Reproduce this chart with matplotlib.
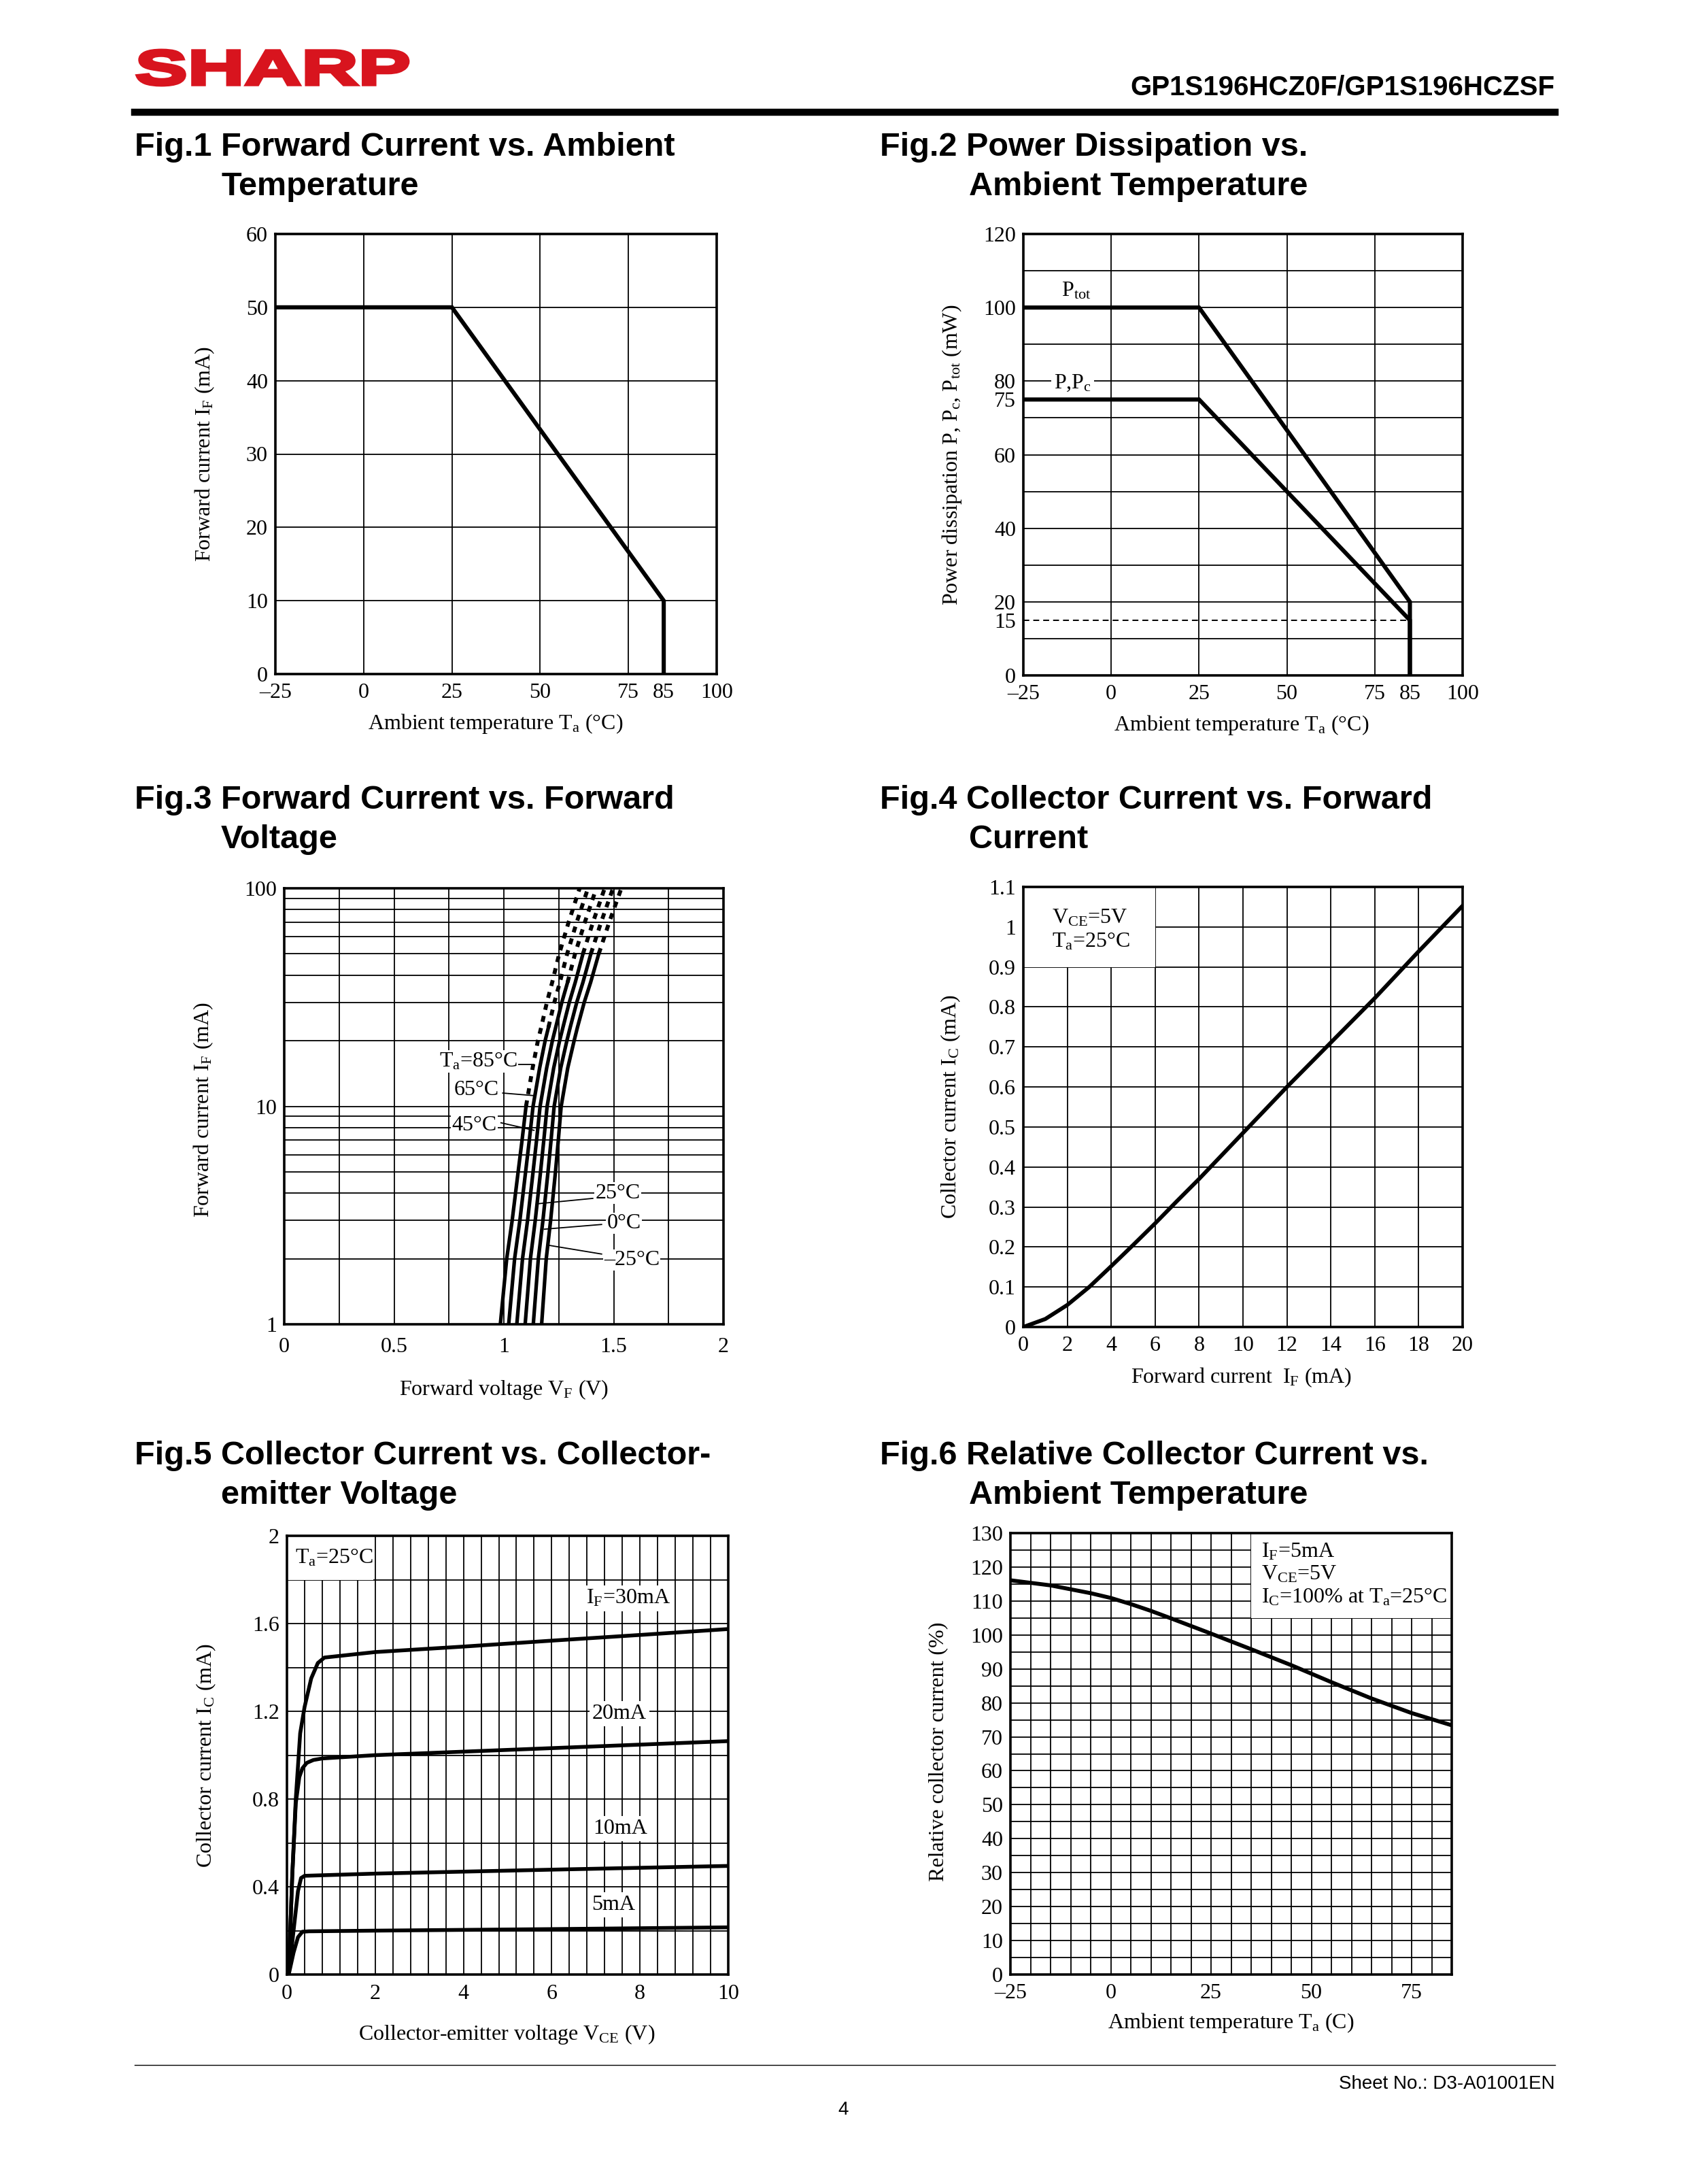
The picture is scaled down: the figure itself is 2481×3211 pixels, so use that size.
import matplotlib
matplotlib.use("Agg")
import matplotlib.pyplot as plt
import numpy as np
from matplotlib.patches import Rectangle, PathPatch
from matplotlib.lines import Line2D
from matplotlib.textpath import TextPath
from matplotlib.font_manager import FontProperties
from matplotlib.transforms import Affine2D

W, H = 2481, 3211
plt.rcParams['font.family'] = ['Liberation Serif', 'DejaVu Serif']
plt.rcParams['mathtext.fontset'] = 'custom'
plt.rcParams['mathtext.rm'] = 'Liberation Serif'
plt.rcParams['mathtext.it'] = 'Liberation Serif:italic'
plt.rcParams['mathtext.bf'] = 'Liberation Serif:bold'

# ---- Fig.1 forward current derating
f1_ta = [-25, 25, 85, 85]
f1_if = [50, 50, 10, 0]

# ---- Fig.2 power dissipation derating
f2_ta = [-25, 25, 85, 85]
f2_ptot = [100, 100, 20, 0]
f2_p = [75, 75, 15, 0]

# ---- Fig.3 forward current vs forward voltage
f3_if = [1, 2, 3, 5, 7, 10, 15, 20, 23, 30, 37, 50, 70, 100]
f3_vf = {
    "85": [0.984, 1.013, 1.038, 1.065, 1.083, 1.101, 1.131, 1.155, 1.170, 1.196, 1.220, 1.252, 1.295, 1.345],
    "65": [1.022, 1.049, 1.073, 1.099, 1.116, 1.133, 1.163, 1.188, 1.203, 1.230, 1.255, 1.288, 1.332, 1.383],
    "45": [1.059, 1.085, 1.108, 1.133, 1.149, 1.165, 1.195, 1.221, 1.236, 1.264, 1.290, 1.324, 1.369, 1.421],
    "25": [1.097, 1.121, 1.143, 1.167, 1.182, 1.197, 1.227, 1.254, 1.269, 1.298, 1.325, 1.360, 1.406, 1.459],
    "0": [1.134, 1.157, 1.178, 1.201, 1.215, 1.229, 1.259, 1.287, 1.302, 1.332, 1.360, 1.396, 1.443, 1.497],
    "-25": [1.172, 1.193, 1.213, 1.235, 1.248, 1.261, 1.291, 1.320, 1.335, 1.366, 1.395, 1.432, 1.480, 1.535],
}
# index where the curve turns dotted (above the rated current)
f3_break = {"85": 5, "65": 8, "45": 10, "25": 11, "0": 11, "-25": 11}

# ---- Fig.4 collector current vs forward current
f4_if = [0, 1, 2, 3, 4, 5, 6, 7, 8, 10, 12, 14, 16, 18, 20]
f4_ic = [0, 0.02, 0.055, 0.1, 0.152, 0.205, 0.259, 0.315, 0.37, 0.485, 0.6, 0.711, 0.822, 0.939, 1.053]

# ---- Fig.5 collector current vs collector-emitter voltage
f5_v30 = [0.04, 0.12, 0.2, 0.25, 0.3, 0.4, 0.55, 0.7, 0.85, 2, 4, 6, 8, 10]
f5_i30 = [0, 0.45, 0.8, 0.95, 1.1, 1.22, 1.35, 1.42, 1.445, 1.47, 1.495, 1.522, 1.548, 1.575]
f5_v20 = [0.04, 0.12, 0.2, 0.28, 0.35, 0.45, 0.6, 0.8, 2, 4, 6, 8, 10]
f5_i20 = [0, 0.45, 0.78, 0.9, 0.94, 0.965, 0.978, 0.985, 1.0, 1.016, 1.032, 1.048, 1.064]
f5_v10 = [0.04, 0.15, 0.25, 0.32, 0.4, 2, 6, 10]
f5_i10 = [0, 0.2, 0.38, 0.44, 0.45, 0.46, 0.478, 0.495]
f5_v5 = [0.04, 0.15, 0.25, 0.35, 0.5, 2, 6, 10]
f5_i5 = [0, 0.1, 0.17, 0.195, 0.197, 0.2, 0.207, 0.215]

# ---- Fig.6 relative collector current vs ambient temperature
f6_ta = [-25, -15, -5, 0, 5, 10, 15, 25, 35, 45, 55, 65, 75, 85]
f6_rel = [116.1, 114.6, 112.3, 110.9, 109.1, 107.1, 104.9, 100.4, 95.8, 91.1, 86.1, 81.3, 77.0, 73.4]

fig = plt.figure(figsize=(W / 100, H / 100), dpi=100)
TICK = 23
LAB = 23
SANS = ['Liberation Sans', 'DejaVu Sans']


def px_axes(l, t, r, b):
    return fig.add_axes([l / W, 1 - b / H, (r - l) / W, (b - t) / H])


def ptext(x, y, s, **kw):
    return fig.text(x / W, 1 - y / H, s, **kw)


def style(ax, xlim, ylim, xticks, xlabels, yticks, ylabels, gx, gy, xpad=9):
    ax.set_xlim(*xlim)
    ax.set_ylim(*ylim)
    ax.set_xticks(xticks)
    ax.set_xticklabels(xlabels)
    ax.set_yticks(yticks)
    ax.set_yticklabels(ylabels)
    ax.set_xticks([], minor=True)
    ax.set_yticks([], minor=True)
    ax.tick_params(which='both', length=0, labelsize=TICK, pad=8)
    ax.tick_params(axis='x', pad=xpad)
    for x in gx:
        ax.axvline(x, color='k', lw=1.3, zorder=0.5)
    for y in gy:
        ax.axhline(y, color='k', lw=1.3, zorder=0.5)
    for s in ax.spines.values():
        s.set_linewidth(2.6)
        s.set_zorder(5)


def title(x, y, l1, l2, indent):
    kw = dict(family=SANS, weight='bold', fontsize=35, va='baseline')
    ptext(x, y, l1, **kw)
    ptext(x + indent, y + 58, l2, **kw)


# ---------- header / footer
fp = FontProperties(family='Liberation Sans', weight='bold')
tp = TextPath((0, 0), 'SHARP', size=100, prop=fp)
bb = tp.get_extents()
tr = (Affine2D().translate(-bb.x0, -bb.y0)
      .scale((600 - 202) / bb.width / W, (125 - 74) / bb.height / H)
      .translate(202 / W, 1 - 125 / H) + fig.transFigure)
fig.add_artist(PathPatch(tp, transform=tr, fc='#D8141E', ec='#D8141E', lw=3.5, joinstyle='miter'))
ptext(2287, 139, 'GP1S196HCZ0F/GP1S196HCZSF', family=SANS,
      weight='bold', fontsize=29, ha='right', va='baseline')
fig.add_artist(Line2D([198 / W, 2287 / W], [1 - 165 / H] * 2, lw=7.5, color='k'))
fig.add_artist(Line2D([198 / W, 2287 / W], [1 - 3036 / H] * 2, lw=1.0, color='k'))
ptext(2287, 3071, 'Sheet No.: D3-A01001EN', family=SANS, fontsize=20, ha='right', va='baseline')
ptext(1240, 3109, '4', family=SANS, fontsize=20, ha='center', va='baseline')

# ---------- titles
title(198, 229, 'Fig.1 Forward Current vs. Ambient', 'Temperature', 127)
title(1294, 229, 'Fig.2 Power Dissipation vs.', 'Ambient Temperature', 131)
title(198, 1189, 'Fig.3 Forward Current vs. Forward', 'Voltage', 127)
title(1294, 1189, 'Fig.4 Collector Current vs. Forward', 'Current', 131)
title(198, 2153, 'Fig.5 Collector Current vs. Collector-', 'emitter Voltage', 127)
title(1294, 2153, 'Fig.6 Relative Collector Current vs.', 'Ambient Temperature', 131)

ta_ticks = [-25, 0, 25, 50, 75, 85, 100]
ta_labels = ['\u201325', '0', '25', '50', '75', '85', '100']

# ---------- Fig.1
ax1 = px_axes(405, 344, 1054, 991)
style(ax1, (-25, 100), (0, 60), ta_ticks, ta_labels, range(0, 61, 10),
      [str(v) for v in range(0, 61, 10)], [0, 25, 50, 75], [10, 20, 30, 40, 50])
ax1.plot(f1_ta, f1_if, color='k', lw=4.4, solid_joinstyle='miter', zorder=3)
ptext(729, 1064, r'Ambient temperature $\mathrm{T_a}$ (°C)', fontsize=LAB, ha='center', va='center')
ptext(301, 667, r'Forward current $\mathrm{I_F}$ (mA)', fontsize=LAB, ha='center', va='center', rotation=90)

# ---------- Fig.2
ax2 = px_axes(1505, 344, 2151, 993)
style(ax2, (-25, 100), (0, 120), ta_ticks, ta_labels, [0, 15, 20, 40, 60, 75, 80, 100, 120],
      ['0', '15', '20', '40', '60', '75', '80', '100', '120'], [0, 25, 50, 75], range(10, 111, 10))
ax2.plot([-25, 85], [15, 15], color='k', lw=1.4, ls=(0, (4.5, 3)), zorder=2)
ax2.plot(f2_ta, f2_ptot, color='k', lw=4.4, solid_joinstyle='miter', zorder=3)
ax2.plot(f2_ta, f2_p, color='k', lw=4.4, solid_joinstyle='miter', zorder=3)
ax2.text(-10, 104.5, r'$\mathrm{P_{tot}}$', fontsize=TICK, ha='center', va='center', zorder=4)
ax2.text(-11, 79.5, r'P,$\mathrm{P_c}$', fontsize=TICK, ha='center', va='center', zorder=4,
         bbox=dict(fc='white', ec='none', pad=3))
ptext(1826, 1066, r'Ambient temperature $\mathrm{T_a}$ (°C)', fontsize=LAB, ha='center', va='center')
ptext(1400, 669, r'Power dissipation P, $\mathrm{P_c}$, $\mathrm{P_{tot}}$ (mW)', fontsize=LAB,
      ha='center', va='center', rotation=90)

# ---------- Fig.3
ax3 = px_axes(418, 1306, 1064, 1947)
ax3.set_yscale('log')
gy3 = [2, 3, 4, 5, 6, 7, 8, 9, 10, 20, 30, 40, 50, 60, 70, 80, 90]
style(ax3, (0, 2), (1, 100), [0, 0.5, 1, 1.5, 2], ['0', '0.5', '1', '1.5', '2'], [1, 10, 100],
      ['1', '10', '100'], [0.25, 0.5, 0.75, 1, 1.25, 1.5, 1.75], gy3, xpad=14)
for key, vf in f3_vf.items():
    k = f3_break[key]
    ax3.plot(vf[:k + 1], f3_if[:k + 1], color='k', lw=3.8, zorder=3)
    ax3.plot(vf[k:], f3_if[k:], color='k', lw=4.2, ls=(0, (1.5, 1.6)), dash_capstyle='butt', zorder=3)
lab3 = [
    (r'$\mathrm{T_a}$=85°C', 0.884, 16.1, [1.058, 1.137], [15.5, 15.5]),
    ('65°C', 0.876, 11.9, [0.995, 1.133], [11.5, 11.2]),
    ('45°C', 0.865, 8.2, [0.987, 1.137], [8.4, 7.76]),
    ('25°C', 1.519, 4.0, [1.405, 1.152], [3.78, 3.57]),
    ('0°C', 1.547, 2.91, [1.445, 1.184], [2.87, 2.73]),
    ('\u201325°C', 1.582, 1.97, [1.445, 1.208], [2.1, 2.3]),
]
for s, x, y, lx, ly in lab3:
    ax3.plot(lx, ly, color='k', lw=1.3, zorder=2)
    ax3.text(x, y, s, fontsize=TICK, ha='center', va='center', zorder=4,
             bbox=dict(fc='white', ec='none', pad=1))
ptext(741, 2043, r'Forward voltage $\mathrm{V_F}$ (V)', fontsize=LAB, ha='center', va='center')
ptext(299, 1631, r'Forward current $\mathrm{I_F}$ (mA)', fontsize=LAB, ha='center', va='center', rotation=90)

# ---------- Fig.4
ax4 = px_axes(1505, 1304, 2151, 1951)
y4 = [0, 0.1, 0.2, 0.3, 0.4, 0.5, 0.6, 0.7, 0.8, 0.9, 1.0, 1.1]
style(ax4, (0, 20), (0, 1.1), range(0, 21, 2), [str(v) for v in range(0, 21, 2)], y4,
      ['0', '0.1', '0.2', '0.3', '0.4', '0.5', '0.6', '0.7', '0.8', '0.9', '1', '1.1'],
      range(2, 19, 2), y4[1:-1])
ax4.add_patch(Rectangle((0, 0.9), 6, 0.2, fc='white', ec='none', zorder=1))
ax4.plot(f4_if, f4_ic, color='k', lw=4.2, zorder=3)
ax4.text(1.3, 0.993, r'$\mathrm{V_{CE}}$=5V' + '\n' + r'$\mathrm{T_a}$=25°C', fontsize=TICK,
         ha='left', va='center', linespacing=1.2, zorder=4)
ptext(1826, 2025, r'Forward current  $\mathrm{I_F}$ (mA)', fontsize=LAB, ha='center', va='center')
ptext(1398, 1627, r'Collector current $\mathrm{I_C}$ (mA)', fontsize=LAB, ha='center', va='center', rotation=90)

# ---------- Fig.5
ax5 = px_axes(422, 2258, 1071, 2903)
style(ax5, (0, 10), (0, 2), range(0, 11, 2), [str(v) for v in range(0, 11, 2)],
      [0, 0.4, 0.8, 1.2, 1.6, 2], ['0', '0.4', '0.8', '1.2', '1.6', '2'],
      np.arange(0.4, 9.9, 0.4), np.arange(0.2, 1.9, 0.2), xpad=10)
ax5.add_patch(Rectangle((0, 1.8), 1.95, 0.2, fc='white', ec='none', zorder=1))
for v, i in [(f5_v30, f5_i30), (f5_v20, f5_i20), (f5_v10, f5_i10), (f5_v5, f5_i5)]:
    ax5.plot(v, i, color='k', lw=4.0, zorder=3)
ax5.text(0.18, 1.90, r'$\mathrm{T_a}$=25°C', fontsize=TICK, ha='left', va='center', zorder=4)
for s, x, y in [(r'$\mathrm{I_F}$=30mA', 7.74, 1.715), ('20mA', 7.53, 1.19),
                ('10mA', 7.55, 0.666), ('5mA', 7.4, 0.317)]:
    ax5.text(x, y, s, fontsize=TICK, ha='center', va='center', zorder=4,
             bbox=dict(fc='white', ec='none', pad=3))
ptext(745, 2991, r'Collector-emitter voltage $\mathrm{V_{CE}}$ (V)', fontsize=LAB, ha='center', va='center')
ptext(303, 2581, r'Collector current $\mathrm{I_C}$ (mA)', fontsize=LAB, ha='center', va='center', rotation=90)

# ---------- Fig.6
ax6 = px_axes(1486, 2254, 2135, 2903)
style(ax6, (-25, 85), (0, 130), [-25, 0, 25, 50, 75], ['\u201325', '0', '25', '50', '75'],
      range(0, 131, 10), [str(v) for v in range(0, 131, 10)],
      range(-20, 81, 5), range(5, 126, 5))
ax6.add_patch(Rectangle((35, 105), 50, 25, fc='white', ec='none', zorder=1))
ax6.plot(f6_ta, f6_rel, color='k', lw=4.2, zorder=3)
ax6.text(37.5, 117.8, r'$\mathrm{I_F}$=5mA' + '\n' + r'$\mathrm{V_{CE}}$=5V' + '\n' +
         r'$\mathrm{I_C}$=100% at $\mathrm{T_a}$=25°C', fontsize=TICK, ha='left', va='center',
         linespacing=1.15, zorder=4)
ptext(1810, 2974, r'Ambient temperature $\mathrm{T_a}$ (C)', fontsize=LAB, ha='center', va='center')
ptext(1380, 2575, 'Relative collector current (%)', fontsize=LAB, ha='center', va='center', rotation=90)

fig.savefig('out.png', dpi=100)
